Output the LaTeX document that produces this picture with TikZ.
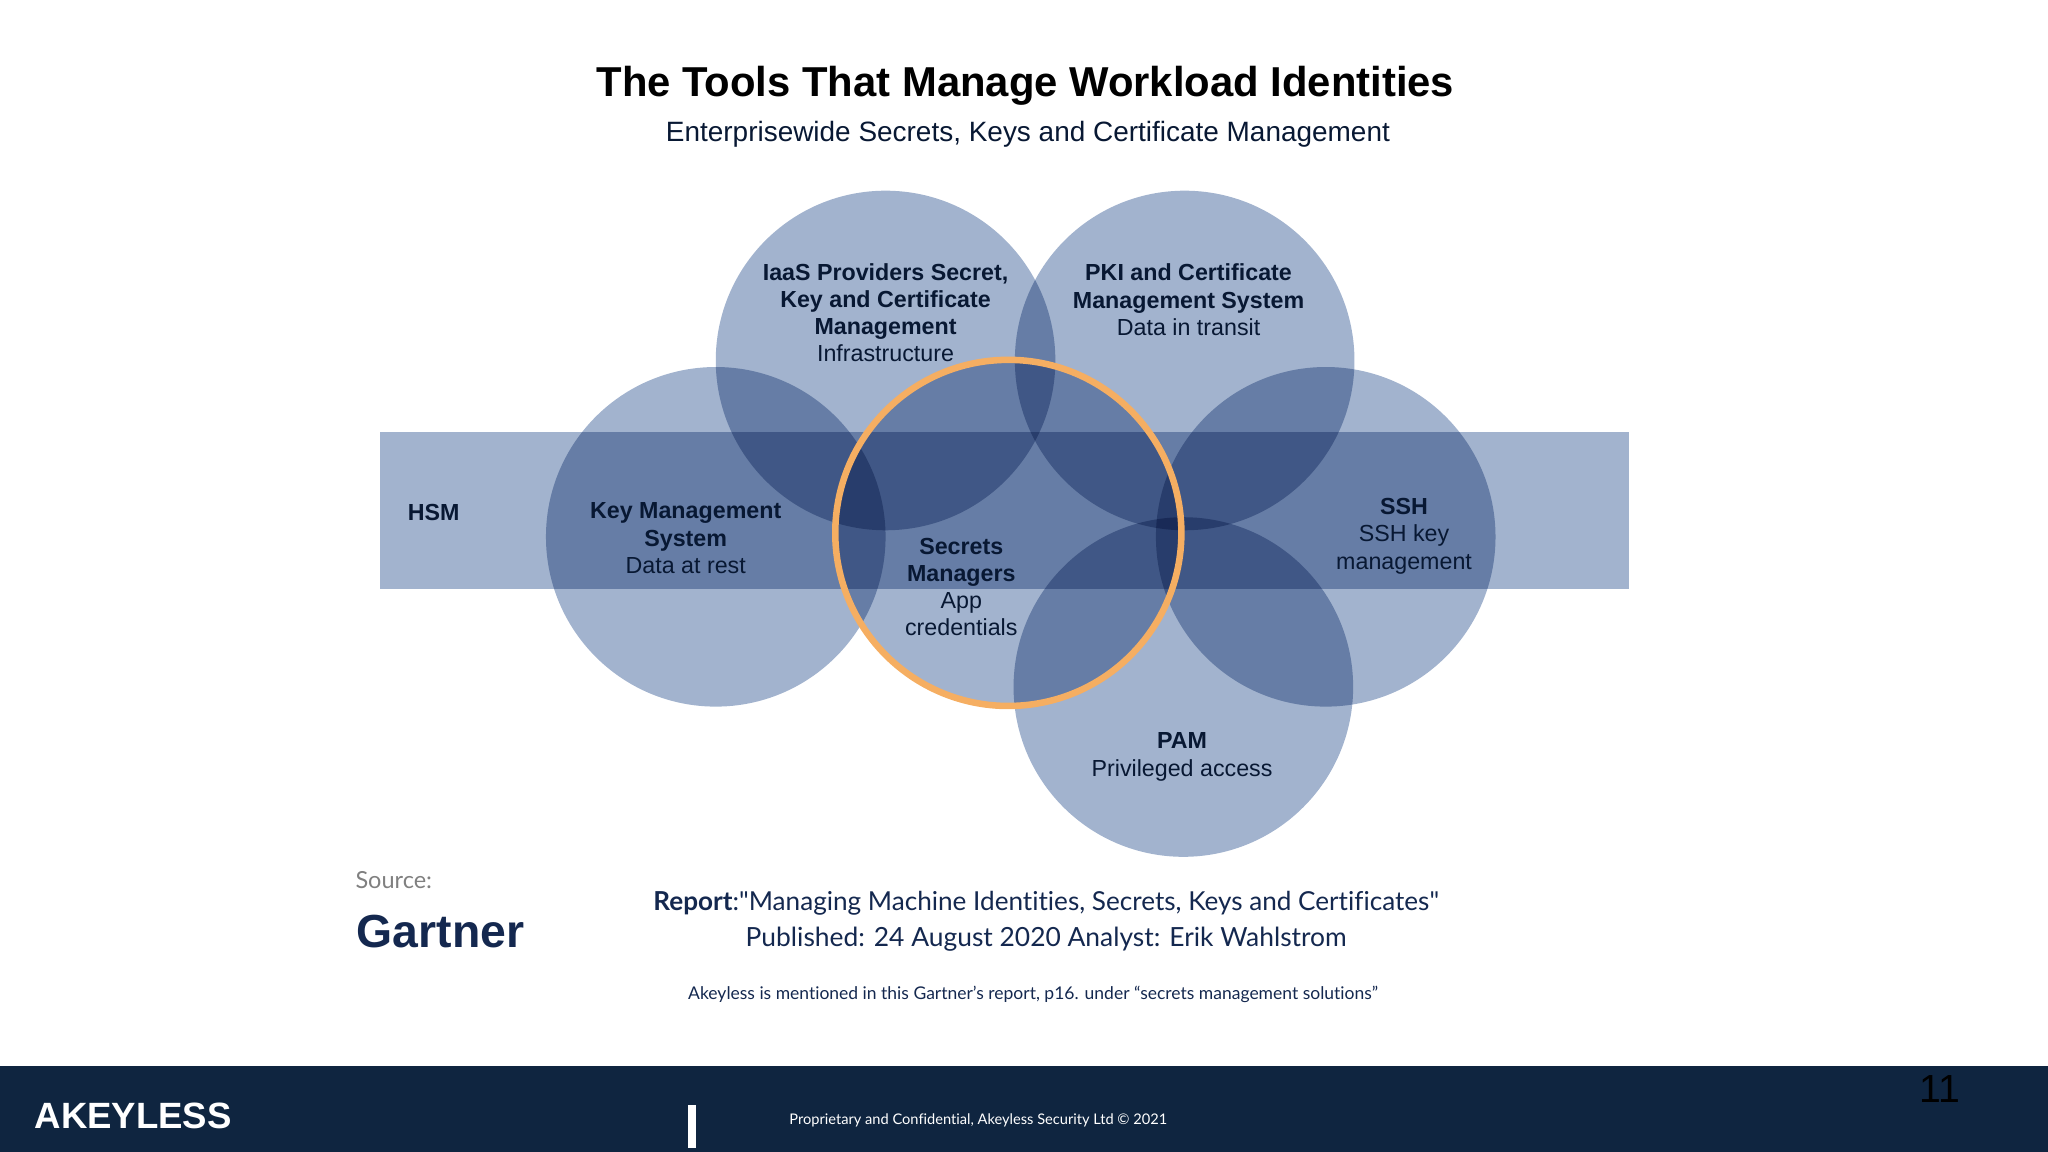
\documentclass[tikz,border=0pt]{standalone}
\usepackage{fontspec}
\setmainfont{Liberation Sans}
\newfontfamily\slidefont[Ligatures=NoCommon]{Lato}
\definecolor{vennblue}{HTML}{A2B3CE}
\definecolor{ringorange}{HTML}{F5AE62}
\definecolor{inkblue}{HTML}{081833}
\definecolor{reportblue}{HTML}{14284F}
\definecolor{footerblue}{HTML}{0F2540}
\tikzset{
  venn/.style={circle,fill=vennblue,blend mode=multiply,minimum size=260pt,inner sep=0pt,outer sep=0pt},
  vennlabel/.style={inner sep=0pt,align=center,text=inkblue,font=\fontsize{17.8}{20.8}\selectfont},
  slidetext/.style={inner sep=0pt,text=reportblue,font=\slidefont\fontsize{#1}{#1}\selectfont},
}
\begin{document}
\begin{tikzpicture}[x=1pt,y=-1pt]
\useasboundingbox (0,0) rectangle (1568,882);
\fill[footerblue] (0,816) rectangle (1568,882);
\node[inner sep=0pt] (title) at (785,66) {\fontsize{32}{32}\selectfont\bfseries The Tools That Manage Workload Identities};
\node[inner sep=0pt,text=inkblue] (subtitle) at (787,103) {\fontsize{21.4}{21.4}\selectfont Enterprisewide Secrets, Keys and Certificate Management};
% band and circles
\fill[vennblue,blend mode=multiply] (291,331) rectangle (1247,451);
\foreach \nm/\px/\py in {iaas/678/276,pki/907/276,kms/548/411,ssh/1015/411,pam/906/526}
  \node[venn] (\nm) at (\px,\py) {};
\node[venn,minimum size=265pt] (secrets) at (772,408) {};
\node[circle,minimum size=265pt,inner sep=0pt,draw=ringorange,line width=5pt] (ring) at (772,408) {};
% circle labels
\node[vennlabel] (iaaslabel) at (678,239.5) {\textbf{IaaS Providers Secret,}\\\textbf{Key and Certificate}\\\textbf{Management}\\Infrastructure};
\node[vennlabel] (pkilabel) at (910,229.5) {\textbf{PKI and Certificate}\\\textbf{Management System}\\Data in transit};
\node[vennlabel] (hsmlabel) at (332,392.5) {\textbf{HSM}};
\node[vennlabel] (kmslabel) at (525,412) {\textbf{Key Management}\\\textbf{System}\\Data at rest};
\node[vennlabel] (sshlabel) at (1075,410.5) {\textbf{SSH}\\SSH key\\management};
\node[vennlabel] (secretslabel) at (736,449.5) {\textbf{Secrets}\\\textbf{Managers}\\App\\credentials};
\node[vennlabel] (pamlabel) at (905,579.5) {\textbf{PAM}\\Privileged access};
% source and report
\node[slidetext=18,anchor=west,text=gray] (source) at (272,674) {Source:};
\node[inner sep=0pt,anchor=west,text=reportblue] (gartner) at (273,713) {\fontsize{35.5}{35.5}\selectfont\bfseries Gartner};
\node[slidetext=20] (report) at (801,691.5) {\textbf{Report}:"Managing Machine Identities, Secrets, Keys and Certificates"};
\node[slidetext=20.2] (published) at (801,719) {Published: 24 August 2020 Analyst: Erik Wahlstrom};
\node[slidetext=13.4] (mention) at (791,761.5) {Akeyless is mentioned in this Gartner’s report, p16. under “secrets management solutions”};
% footer
\node[inner sep=0pt,text=white] (logo) at (102,854) {\fontsize{28}{28}\selectfont\bfseries AKEYLESS};
\fill[white] (527,846) rectangle (533,879);
\node[slidetext=11.2,text=white] (notice) at (749,857.5) {Proprietary and Confidential, Akeyless Security Ltd © 2021};
\node[inner sep=0pt,text=black] (pagenum) at (1485,834) {\fontsize{30}{30}\selectfont 11};
\end{tikzpicture}
\end{document}
